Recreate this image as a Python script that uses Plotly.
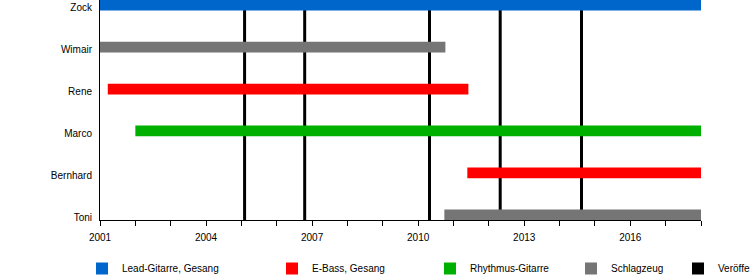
import plotly.graph_objects as go

# ---- data ----
members = ["Toni", "Bernhard", "Marco", "Rene", "Wimair", "Zock"]  # bottom -> top
roles = ["Lead-Gitarre, Gesang", "E-Bass, Gesang", "Rhythmus-Gitarre", "Schlagzeug"]
role_colors = ["#0066CC", "#FF0000", "#00B000", "#757575"]

# (member, role, start, end) in decimal years
bar_member = ["Zock", "Wimair", "Rene", "Marco", "Bernhard", "Toni"]
bar_role = ["Lead-Gitarre, Gesang", "Schlagzeug", "E-Bass, Gesang", "Rhythmus-Gitarre", "E-Bass, Gesang", "Schlagzeug"]
bar_start = [2001.0, 2001.0, 2001.22, 2002.0, 2011.39, 2010.74]
bar_end = [2018.0, 2010.77, 2011.42, 2018.0, 2018.0, 2018.0]

releases = [2005.09, 2006.79, 2010.32, 2012.32, 2014.62]
release_label = "Veröffentlichung"

x_start, x_end = 2001, 2018
tick_years = [2001, 2004, 2007, 2010, 2013, 2016]
tick_labels = [str(y) for y in tick_years]

FONT = "Liberation Sans"
FS = 10

fig = go.Figure()

legend_x_px = [82, 272, 430, 571, 678]
legend_names = ["legend", "legend2", "legend3", "legend4", "legend5"]

for i, (role, col) in enumerate(zip(roles, role_colors)):
    idx = [k for k, r in enumerate(bar_role) if r == role]
    fig.add_trace(go.Bar(
        orientation="h",
        y=[members.index(bar_member[k]) for k in idx],
        base=[bar_start[k] for k in idx],
        x=[bar_end[k] - bar_start[k] for k in idx],
        width=0.255,
        marker=dict(color=col, line=dict(width=0)),
        name=role,
        legend=legend_names[i],
        hoverinfo="skip",
    ))

# legend-only entry for releases
fig.add_trace(go.Bar(
    orientation="h", y=[None], x=[None],
    marker=dict(color="#000000", line=dict(width=0)),
    name=release_label, legend=legend_names[4], hoverinfo="skip",
))

for r in releases:
    fig.add_shape(type="line", xref="x", yref="paper", x0=r, x1=r, y0=0, y1=1,
                  line=dict(color="#000000", width=3), layer="below")

legend_layout = {}
for name, xp in zip(legend_names, legend_x_px):
    legend_layout[name] = dict(
        xref="container", yref="container", x=xp / 750, y=(280 - 268.5) / 280,
        xanchor="left", yanchor="middle", orientation="h",
        font=dict(family=FONT, size=FS, color="#000000"),
        bgcolor="rgba(0,0,0,0)", borderwidth=0, traceorder="normal",
    )

fig.update_layout(
    width=750, height=280,
    margin=dict(l=100, r=49, t=0, b=60, pad=0),
    paper_bgcolor="white", plot_bgcolor="white",
    barmode="overlay",
    font=dict(family=FONT, size=FS, color="#000000"),
    showlegend=True,
    **legend_layout,
)

fig.update_xaxes(
    range=[x_start, x_end], showgrid=False, zeroline=False,
    showline=True, linecolor="#000000", linewidth=1,
    tickmode="array", tickvals=tick_years, ticktext=tick_labels,
    ticks="outside", ticklen=5, tickwidth=1, tickcolor="#000000",
    ticklabelstandoff=3,
    minor=dict(ticks="outside", dtick=1, tick0=2001, ticklen=5, tickwidth=1, tickcolor="#000000", showgrid=False),
    tickfont=dict(family=FONT, size=FS, color="#000000"),
)
fig.update_yaxes(
    range=[-0.125, 5.125], showgrid=False, zeroline=False,
    showline=True, linecolor="#000000", linewidth=1,
    tickmode="array", tickvals=[i - 0.06 for i in range(len(members))], ticktext=members,
    ticks="", ticklabelstandoff=5, ticklabeloverflow="allow",
    tickfont=dict(family=FONT, size=FS, color="#000000"),
)

fig.write_html("out.html")
